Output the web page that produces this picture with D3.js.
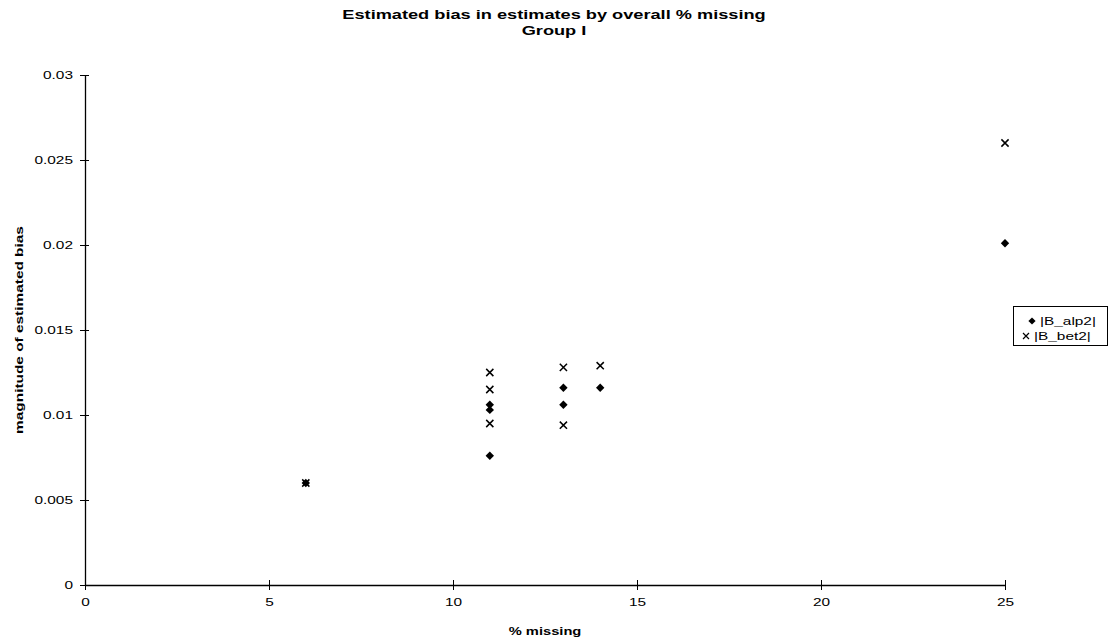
<!DOCTYPE html>
<html>
<head>
<meta charset="utf-8">
<script src="https://cdn.jsdelivr.net/npm/d3@7"></script>
<style>
  html, body { margin: 0; padding: 0; background: #fff; }
  svg { display: block; }
  text { font-family: "Liberation Sans", Arial, sans-serif; fill: #000; }
</style>
</head>
<body>
<svg id="chart" width="1109" height="641"></svg>
<script>
// % missing for each run
const pctMissing = [6, 11, 11, 11, 13, 13, 14, 25];
// |B_alp2| bias magnitudes
const alp2 = [0.0060, 0.0106, 0.0103, 0.0076, 0.0116, 0.0106, 0.0116, 0.0201];
// |B_bet2| bias magnitudes
const bet2 = [0.0060, 0.0125, 0.0115, 0.0095, 0.0128, 0.0094, 0.0129, 0.0260];

const seriesNames = ["|B_alp2|", "|B_bet2|"];
const xTicks = [0, 5, 10, 15, 20, 25];
const yTicks = [0, 0.005, 0.01, 0.015, 0.02, 0.025, 0.03];
const yTickLabels = ["0", "0.005", "0.01", "0.015", "0.02", "0.025", "0.03"];

const titleLines = ["Estimated bias in estimates by overall % missing", "Group I"];
const xTitle = "% missing";
const yTitle = "magnitude of estimated bias";

// horizontal stretch applied to all lettering
const SX = 1.4;

const svg = d3.select("#chart");
const plot = { left: 85, right: 1005, top: 75, bottom: 585 };

const x = d3.scaleLinear().domain([0, 25]).range([plot.left, plot.right]);
const y = d3.scaleLinear().domain([0, 0.03]).range([plot.bottom, plot.top]);

function stretchedText(g, tx, ty, str, opts = {}) {
  return g.append("text")
    .attr("transform", `translate(${tx},${ty})${opts.rotate ? ` rotate(${opts.rotate})` : ""} scale(${SX},1)`)
    .attr("text-anchor", opts.anchor || "middle")
    .style("font-size", (opts.size || 11) + "px")
    .style("font-weight", opts.weight || "normal")
    .text(str);
}

// title
titleLines.forEach((t, i) => {
  stretchedText(svg, 554, 19 + i * 16, t, { size: 13, weight: "bold" });
});

// y axis
const yAxis = svg.append("g")
  .attr("transform", `translate(${plot.left},0)`)
  .call(d3.axisLeft(y).tickValues(yTicks).tickFormat((d, i) => yTickLabels[i]).tickSizeOuter(0));
yAxis.select(".domain").attr("stroke", "#000").attr("stroke-width", 1.3);
yAxis.selectAll(".tick line").attr("x1", -5).attr("x2", 4).attr("stroke", "#000");
yAxis.selectAll(".tick text")
  .attr("x", null).attr("dy", "0.35em")
  .attr("transform", `translate(-12,0) scale(${SX},1)`)
  .style("font-size", "11px")
  .style("font-family", '"Liberation Sans", Arial, sans-serif');

// x axis
const xAxis = svg.append("g")
  .attr("transform", `translate(0,${plot.bottom})`)
  .call(d3.axisBottom(x).tickValues(xTicks).tickFormat(d3.format("d")).tickSizeOuter(0));
xAxis.select(".domain").attr("stroke", "#000").attr("stroke-width", 1.3);
xAxis.selectAll(".tick line").attr("y1", -5).attr("y2", 5).attr("stroke", "#000");
xAxis.selectAll(".tick text")
  .attr("y", null).attr("dy", null)
  .attr("transform", `translate(0,21) scale(${SX},1)`)
  .style("font-size", "11px")
  .style("font-family", '"Liberation Sans", Arial, sans-serif');

// axis titles
stretchedText(svg, 545, 635, xTitle, { size: 10.5, weight: "bold" });
stretchedText(svg, 23, 330, yTitle, { size: 11, weight: "bold", rotate: -90 });

// markers: square-ish diamond and an X cross
const diamondPath = s => `M0,${-s}L${s},0L0,${s}L${-s},0Z`;
const crossPath = s => `M${-s},${-s}L${s},${s}M${-s},${s}L${s},${-s}`;

const marks = svg.append("g");
marks.selectAll("path.alp2")
  .data(alp2)
  .join("path")
  .attr("class", "alp2")
  .attr("transform", (d, i) => `translate(${x(pctMissing[i])},${y(d)})`)
  .attr("d", diamondPath(4.2))
  .attr("fill", "#000");

marks.selectAll("path.bet2")
  .data(bet2)
  .join("path")
  .attr("class", "bet2")
  .attr("transform", (d, i) => `translate(${x(pctMissing[i])},${y(d)})`)
  .attr("d", crossPath(3.6))
  .attr("fill", "none")
  .attr("stroke", "#000")
  .attr("stroke-width", 1.5);

// legend
const legend = svg.append("g");
legend.append("rect")
  .attr("x", 1013.5).attr("y", 306.5)
  .attr("width", 94).attr("height", 39)
  .attr("fill", "#fff").attr("stroke", "#000").attr("stroke-width", 1);

legend.append("path")
  .attr("transform", "translate(1032,321)")
  .attr("d", diamondPath(3.6))
  .attr("fill", "#000");
legend.append("path")
  .attr("transform", "translate(1026,336)")
  .attr("d", crossPath(3))
  .attr("fill", "none").attr("stroke", "#000").attr("stroke-width", 1.2);

stretchedText(legend, 1040, 325, seriesNames[0], { size: 11, anchor: "start" });
stretchedText(legend, 1034, 340, seriesNames[1], { size: 11, anchor: "start" });
</script>
</body>
</html>
